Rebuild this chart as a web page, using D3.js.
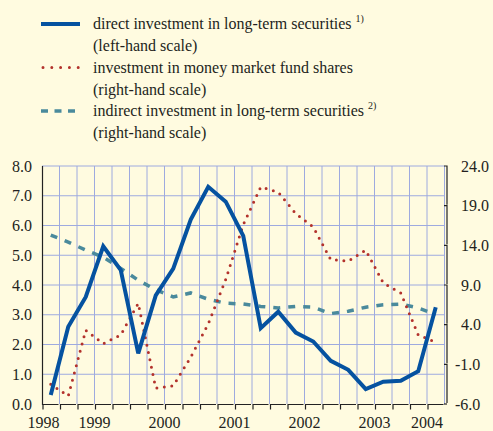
<!DOCTYPE html>
<html>
<head>
<meta charset="utf-8">
<script src="https://cdn.jsdelivr.net/npm/d3@7"></script>
<style>
  body { margin: 0; background: #fffbe0; }
  svg { display: block; }
</style>
</head>
<body>
<div id="chart"></div>
<script>
// quarters 1998 Q4 .. 2004 Q2
var quarters = ["1998Q4",
  "1999Q1", "1999Q2", "1999Q3", "1999Q4",
  "2000Q1", "2000Q2", "2000Q3", "2000Q4",
  "2001Q1", "2001Q2", "2001Q3", "2001Q4",
  "2002Q1", "2002Q2", "2002Q3", "2002Q4",
  "2003Q1", "2003Q2", "2003Q3", "2003Q4",
  "2004Q1", "2004Q2"];

// left-hand scale
var directLong = [0.3, 2.6, 3.6, 5.3, 4.5, 1.7, 3.65, 4.55, 6.2, 7.3, 6.8, 5.65,
  2.55, 3.1, 2.4, 2.1, 1.45, 1.15, 0.5, 0.75, 0.78, 1.1, 3.25];
// right-hand scale
var moneyMarket = [-3.5, -5.0, 3.3, 1.6, 2.7, 6.7, -4.0, -3.7, -0.1, 4.1, 9.7, 16.6,
  21.35, 20.7, 18.0, 16.3, 12.2, 12.0, 13.4, 9.25, 8.0, 2.7, 1.8];
var indirectLong = [15.3, 14.4, 13.4, 12.5, 11.1, 9.6, 8.4, 7.5, 8.0, 7.2, 6.7, 6.6,
  6.3, 6.1, 6.3, 6.2, 5.4, 5.7, 6.2, 6.5, 6.6, 6.1, 5.3];

var years = ["1998", "1999", "2000", "2001", "2002", "2003", "2004"];
var leftTicks = [0, 1, 2, 3, 4, 5, 6, 7, 8];
var rightTicks = [-6, -1, 4, 9, 14, 19, 24];

var svgWidth = 493;
var svgHeight = 431;
var fontFamily = "'Liberation Serif', 'Times New Roman', Times, 'DejaVu Serif', serif";

var plot = { left: 42, right: 444.5, top: 166, bottom: 404 };

var svg = d3.select("#chart")
    .append("svg")
    .attr("width", svgWidth)
    .attr("height", svgHeight)
    .attr("font-family", fontFamily);

svg.append("rect")
    .attr("width", svgWidth)
    .attr("height", svgHeight)
    .attr("fill", "#fffbe0");

var x = d3.scaleLinear().domain([0, quarters.length]).range([plot.left, plot.right]);
var yLeft = d3.scaleLinear().domain([0, 8]).range([plot.bottom, plot.top]);
var yRight = d3.scaleLinear().domain([-6, 24]).range([plot.bottom, plot.top]);

// grid
var grid = svg.append("g").attr("stroke", "#9eaadf").attr("stroke-width", 1);
grid.selectAll(".hgrid")
    .data(leftTicks.slice(1))
    .enter()
    .append("line")
    .attr("x1", plot.left)
    .attr("x2", plot.right)
    .attr("y1", d => yLeft(d))
    .attr("y2", d => yLeft(d));
grid.selectAll(".vgrid")
    .data(d3.range(1, quarters.length + 1))
    .enter()
    .append("line")
    .attr("x1", d => x(d))
    .attr("x2", d => x(d))
    .attr("y1", plot.top)
    .attr("y2", plot.bottom);

// left axis
svg.append("line")
    .attr("x1", plot.left + 0.5).attr("x2", plot.left + 0.5)
    .attr("y1", plot.top).attr("y2", plot.bottom + 1)
    .attr("stroke", "#222").attr("stroke-width", 1.2);

svg.selectAll(".ltick")
    .data(leftTicks)
    .enter()
    .append("text")
    .attr("x", 32)
    .attr("y", d => yLeft(d) + 5.5)
    .attr("text-anchor", "end")
    .attr("font-size", "16px")
    .attr("fill", "#231f20")
    .text(d => d.toFixed(1));

// bottom axis: bracket segments per quarter
var axisY = plot.bottom + 0.5;
svg.selectAll(".xseg")
    .data(d3.range(quarters.length))
    .enter()
    .append("path")
    .attr("d", d => `M${x(d) + 1},${axisY + 5}V${axisY}H${x(d + 1) - 1}`)
    .attr("fill", "none")
    .attr("stroke", "#222")
    .attr("stroke-width", 1.2);

// year labels centred on the visible part of each year
svg.selectAll(".year")
    .data(years)
    .enter()
    .append("text")
    .attr("font-size", "16px")
    .attr("fill", "#231f20")
    .attr("y", 428)
    .each(function (d, i) {
        var start = i * 4 - 3;
        var a = Math.max(0, start), b = Math.min(quarters.length, start + 4);
        var t = d3.select(this);
        if (b - a < 2) {
            t.attr("x", x(b)).attr("text-anchor", "end");
        } else {
            t.attr("x", x((a + b) / 2)).attr("text-anchor", "middle");
        }
    })
    .text(d => d);

// right axis: bracket segments
var axisX = plot.right + 2.5;
svg.selectAll(".yseg")
    .data(rightTicks.slice(1))
    .enter()
    .append("path")
    .attr("d", d => `M${axisX - 3},${yRight(d)}H${axisX}V${yRight(d - 5) - 1}`)
    .attr("fill", "none")
    .attr("stroke", "#222")
    .attr("stroke-width", 1.2);
svg.append("path")
    .attr("d", `M${axisX - 3},${yRight(-6)}H${axisX}`)
    .attr("stroke", "#222").attr("stroke-width", 1.2);

svg.selectAll(".rtick")
    .data(rightTicks)
    .enter()
    .append("text")
    .attr("x", d => d < 0 ? 455 : 461)
    .attr("y", d => yRight(d) + 5.5)
    .attr("font-size", "16px")
    .attr("fill", "#231f20")
    .text(d => d.toFixed(1));

// series
var xi = (d, i) => x(i + 0.5);

svg.append("path")
    .datum(indirectLong)
    .attr("fill", "none")
    .attr("stroke", "#4a8a9c")
    .attr("stroke-width", 3.5)
    .attr("stroke-dasharray", "7 8")
    .attr("d", d3.line().x(xi).y(d => yRight(d)));

svg.append("path")
    .datum(moneyMarket)
    .attr("fill", "none")
    .attr("stroke", "#b3322c")
    .attr("stroke-width", 3)
    .attr("stroke-linecap", "round")
    .attr("stroke-dasharray", "0 7.5")
    .attr("d", d3.line().x(xi).y(d => yRight(d)));

svg.append("path")
    .datum(directLong)
    .attr("fill", "none")
    .attr("stroke", "#0552a0")
    .attr("stroke-width", 4)
    .attr("stroke-linejoin", "miter")
    .attr("d", d3.line().x(xi).y(d => yLeft(d)));

// legend
var legend = svg.append("g");
var legendItems = [
    { lines: ["direct investment in long-term securities", "(left-hand scale)"], sup: "1)", color: "#0552a0", dash: null, width: 4, cap: "butt" },
    { lines: ["investment in money market fund shares", "(right-hand scale)"], sup: "", color: "#b3322c", dash: "0 8.8", width: 3, cap: "round" },
    { lines: ["indirect investment in long-term securities", "(right-hand scale)"], sup: "2)", color: "#4a8a9c", dash: "7 6.5", width: 3.5, cap: "butt" }
];

legendItems.forEach(function (item, i) {
    var y0 = 24 + i * 43.5;
    legend.append("line")
        .attr("x1", item.cap === "round" ? 43 : 41)
        .attr("x2", 80)
        .attr("y1", y0).attr("y2", y0)
        .attr("stroke", item.color)
        .attr("stroke-width", item.width)
        .attr("stroke-linecap", item.cap)
        .attr("stroke-dasharray", item.dash);
    var t = legend.append("text")
        .attr("x", 93)
        .attr("y", y0 + 5)
        .attr("font-size", "16px")
        .attr("fill", "#231f20")
        .text(item.lines[0]);
    if (item.sup) {
        t.append("tspan")
            .attr("dx", 4)
            .attr("dy", -7)
            .attr("font-size", "10px")
            .text(item.sup);
    }
    legend.append("text")
        .attr("x", 93)
        .attr("y", y0 + 27)
        .attr("font-size", "16px")
        .attr("fill", "#231f20")
        .text(item.lines[1]);
});
</script>
</body>
</html>
